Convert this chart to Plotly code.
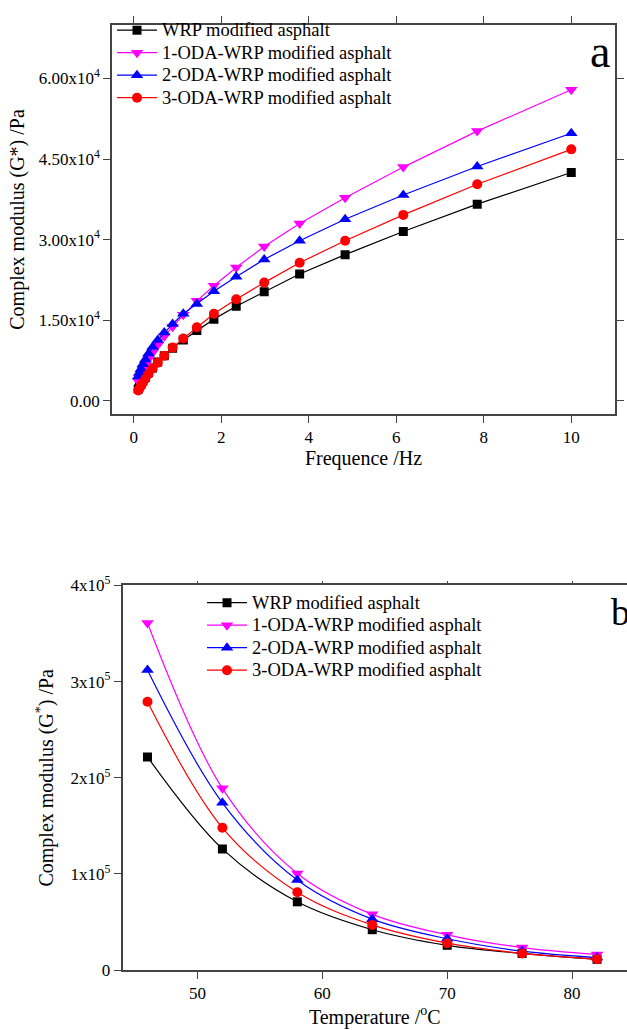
import plotly.graph_objects as go

# ---------------- Panel a: frequency sweep ----------------
freq_hz = [0.1, 0.127, 0.162, 0.207, 0.264, 0.336, 0.428, 0.546, 0.695, 0.886,
           1.13, 1.44, 1.83, 2.34, 2.98, 3.79, 4.83, 6.16, 7.85, 10.0]
g_wrp_a = [2200, 2600, 3100, 3700, 4400, 5200, 6100, 7200, 8400, 9800,
           11300, 13100, 15200, 17600, 20300, 23600, 27200, 31500, 36600, 42500]
g_oda1_a = [3700, 4300, 5000, 5800, 6700, 7800, 9000, 10400, 12000, 13800,
            16000, 18600, 21400, 24800, 28700, 33000, 37800, 43500, 50200, 57900]
g_oda2_a = [4500, 5200, 5900, 6800, 7700, 8800, 10000, 11300, 12700, 14300,
            16200, 18000, 20400, 23100, 26300, 29800, 33800, 38300, 43600, 49800]
g_oda3_a = [1900, 2300, 2800, 3400, 4100, 5000, 6000, 7100, 8400, 9900,
            11600, 13700, 16200, 18900, 22000, 25700, 29800, 34600, 40300, 46800]

y_ticks_a = [0, 15000, 30000, 45000, 60000]
y_ticktext_a = ["0.00", "1.50x10<sup>4</sup>", "3.00x10<sup>4</sup>",
                "4.50x10<sup>4</sup>", "6.00x10<sup>4</sup>"]
x_ticks_a = [0, 2, 4, 6, 8, 10]

# ---------------- Panel b: temperature sweep ----------------
temp_c = [46, 52, 58, 64, 70, 76, 82]
g_wrp_b = [221700, 126000, 71000, 42000, 25800, 17300, 11200]
g_oda1_b = [361000, 189000, 100500, 58000, 36700, 23400, 16300]
g_oda2_b = [312000, 174000, 93700, 53000, 32600, 19700, 13000]
g_oda3_b = [279000, 148000, 81000, 47000, 28000, 17300, 11200]

y_ticks_b = [0, 100000, 200000, 300000, 400000]
y_ticktext_b = ["0", "1x10<sup>5</sup>", "2x10<sup>5</sup>",
                "3x10<sup>5</sup>", "4x10<sup>5</sup>"]
x_ticks_b = [50, 60, 70, 80]

names = ["WRP modified asphalt", "1-ODA-WRP modified asphalt",
         "2-ODA-WRP modified asphalt", "3-ODA-WRP modified asphalt"]
colors = ["#000000", "#FF00FF", "#0000FF", "#FF0000"]
symbols = ["square", "triangle-down", "triangle-up", "circle"]
msizes = [9, 11, 11, 10]

FONT = "Liberation Serif"
W, H = 627, 1030


def big(s):
    return '<span style="font-size:18.5px">' + s + '</span>'


fig = go.Figure()

for ys, nm, c, s, ms in zip([g_wrp_a, g_oda1_a, g_oda2_a, g_oda3_a], names, colors, symbols, msizes):
    fig.add_trace(go.Scatter(
        x=freq_hz, y=ys, name=big(nm), mode="lines+markers",
        line=dict(color=c, width=1.2),
        marker=dict(symbol=s, size=ms, color=c),
        xaxis="x", yaxis="y", legend="legend"))

for ys, nm, c, s, ms in zip([g_wrp_b, g_oda1_b, g_oda2_b, g_oda3_b], names, colors, symbols, msizes):
    fig.add_trace(go.Scatter(
        x=temp_c, y=ys, name=big(nm), mode="lines+markers",
        line=dict(color=c, width=1.2, shape="spline", smoothing=1.0),
        marker=dict(symbol=s, size=ms, color=c),
        xaxis="x2", yaxis="y2", legend="legend2"))

axis_common = dict(showgrid=False, zeroline=False, showline=True,
                   linecolor="#444444", linewidth=1.5, ticks="outside",
                   ticklen=7, tickwidth=1.2, tickcolor="#444444",
                   tickfont=dict(family=FONT, size=17, color="black"))

fig.update_layout(
    width=W, height=H,
    margin=dict(l=0, r=0, t=0, b=0),
    paper_bgcolor="white", plot_bgcolor="white",
    font=dict(family=FONT, color="black"),
    xaxis=dict(domain=[112 / W, 615 / W], anchor="y", range=[-0.5, 11],
               tickvals=x_ticks_a, mirror="ticks",
               title=dict(text="Frequence /Hz", font=dict(size=20), standoff=0),
               **axis_common),
    yaxis=dict(domain=[1 - 411 / H, 1 - 13 / H], anchor="x", range=[-2500, 70000],
               tickvals=y_ticks_a, ticktext=y_ticktext_a, mirror="ticks",
               title=dict(text="Complex modulus (G*) /Pa", font=dict(size=20), standoff=9),
               **axis_common),
    xaxis2=dict(domain=[122.5 / W, 1.0], anchor="y2", range=[44, 84.4],
                tickvals=x_ticks_b,
                title=dict(text="Temperature /<sup>o</sup>C", font=dict(size=20), standoff=6),
                **axis_common),
    xaxis3=dict(overlaying="x2", anchor="y2", side="top", range=[44, 84.4],
                tickvals=x_ticks_b, showticklabels=False,
                **{**axis_common, "ticklen": 3}),
    yaxis2=dict(domain=[1 - 979 / H, 1 - 586 / H], anchor="x2", range=[0, 400000],
                tickvals=y_ticks_b, ticktext=y_ticktext_b,
                title=dict(text="Complex modulus (G<sup>*</sup>) /Pa", font=dict(size=20), standoff=11),
                **axis_common),
    legend=dict(x=112 / W, y=1 - 2 / H, xanchor="left", yanchor="top",
                bgcolor="rgba(0,0,0,0)", borderwidth=0, itemwidth=40,
                font=dict(family=FONT, size=15, color="black"), tracegroupgap=0),
    legend2=dict(x=202 / W, y=1 - 587 / H, xanchor="left", yanchor="top",
                 bgcolor="rgba(0,0,0,0)", borderwidth=0, itemwidth=40,
                 font=dict(family=FONT, size=15, color="black"), tracegroupgap=0),
    annotations=[
        dict(text="a", xref="paper", yref="paper", x=612 / W, y=1 - 12 / H,
             xanchor="right", yanchor="top", showarrow=False,
             font=dict(family=FONT, size=46, color="black")),
        dict(text="b", xref="paper", yref="paper", x=609 / W, y=1 - 590 / H,
             xanchor="left", yanchor="top", showarrow=False,
             font=dict(family=FONT, size=38, color="black")),
    ],
)

# empty helper trace so the top frame axis of panel b is rendered
fig.add_trace(go.Scatter(x=[], y=[], xaxis="x3", yaxis="y2", showlegend=False, hoverinfo="skip"))

fig.write_html("out.html")
